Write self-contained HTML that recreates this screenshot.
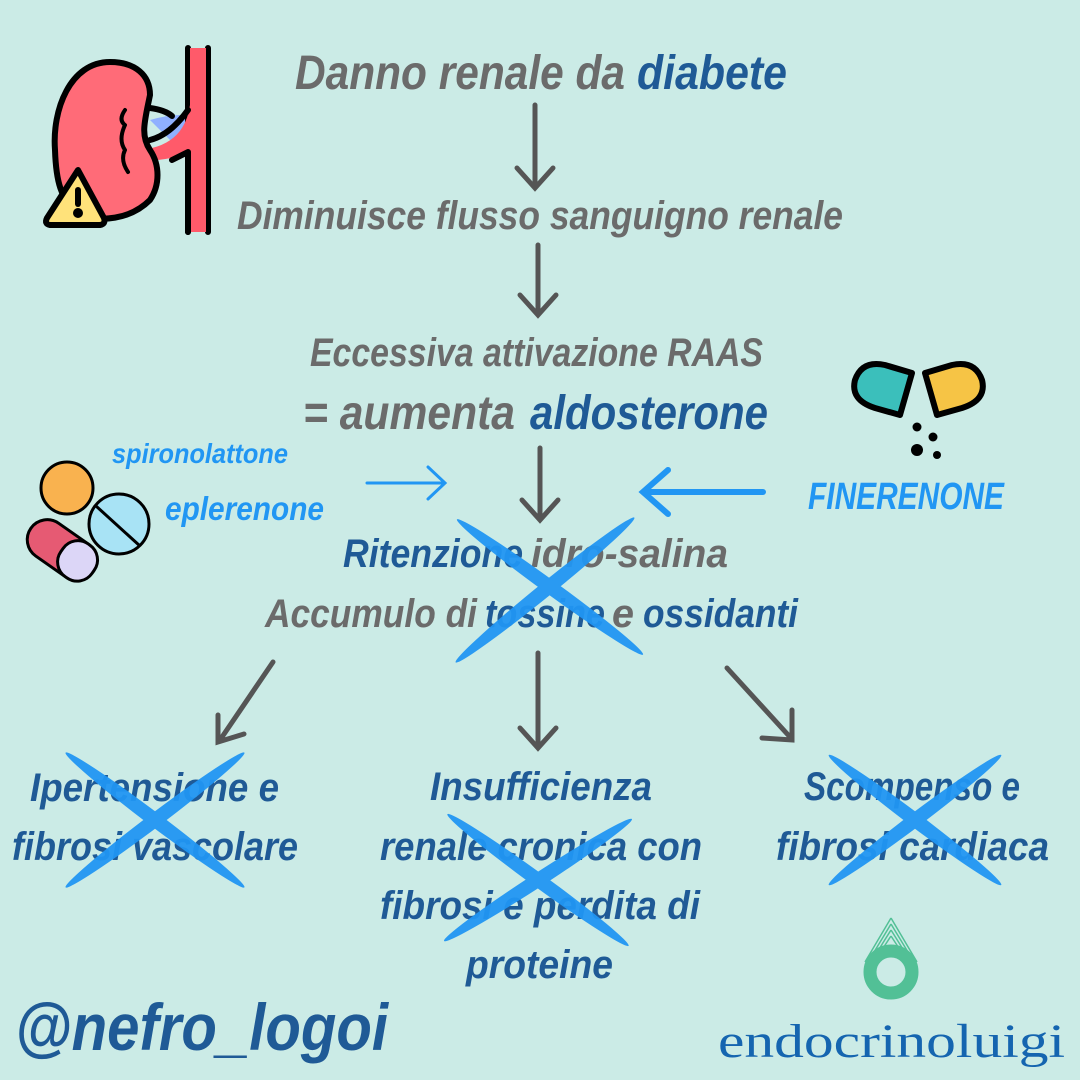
<!DOCTYPE html>
<html><head><meta charset="utf-8"><style>
html,body{margin:0;padding:0;background:#cbebe6;}
svg{display:block}
text{font-family:"Liberation Sans",sans-serif;font-style:italic;font-weight:bold;}
.g{fill:#6b6b6b}.b{fill:#1f5a96}.c{fill:#2196f3}
</style></head><body>
<svg width="1080" height="1080" viewBox="0 0 1080 1080">
<rect width="1080" height="1080" fill="#cbebe6"/>
<g stroke="#000" stroke-width="6" stroke-linecap="round" stroke-linejoin="round">
<path d="M150 120 Q185 110 200 120 L210 140 L180 150 Z" fill="#8fb0ff" stroke="none"/>
<path d="M188 48 L188 232 M208 48 L208 232" fill="none"/>
<rect x="190" y="48" width="16" height="184" fill="#ff5a6a" stroke="none"/>
<path d="M190 105 Q185 140 152 148 L158 160 Q175 158 190 153 Z" fill="#ff5a6a" stroke="none"/>
<path d="M110 62 C70 62 52 110 55 150 C56 180 60 200 80 215 C100 222 130 220 150 200 C160 185 160 165 150 150 C140 135 145 120 150 95 C150 75 135 62 110 62 Z" fill="#ff6b78"/>
<path d="M150 108 Q165 110 172 116 M150 140 Q170 135 188 110 M172 160 L188 152 L188 232" fill="none"/>
<path d="M125 110 Q118 120 125 125 Q118 140 125 150 Q120 160 128 172" fill="none" stroke-width="4"/>
<path d="M78 170 L104 218 Q106 224 100 225 L50 225 Q44 224 47 218 Z" fill="#ffe27a"/>
<path d="M78 190 L78 204" fill="none"/><circle cx="78" cy="213" r="2" fill="#000"/>
</g>
<g stroke="#000" stroke-width="3">
<circle cx="67" cy="488" r="26" fill="#f9b24f"/>
<circle cx="119" cy="524" r="30" fill="#a8e3f5"/>
<line x1="96" y1="506" x2="140" y2="546"/>
<g transform="rotate(35 62 550)"><rect x="24" y="530" width="76" height="40" rx="20" fill="#e65a73"/><rect x="62" y="530" width="38" height="40" rx="18" fill="#dcd6f7"/></g>
</g>
<g stroke="#000" stroke-width="6" stroke-linejoin="round">
<path d="M912 373 L900 415 L875 408 Q850 400 855 380 Q862 360 885 365 Z" fill="#3bbfbb"/>
<path d="M925 373 L937 415 L962 408 Q987 400 982 380 Q975 360 952 365 Z" fill="#f6c445"/>
</g>
<g fill="#000"><circle cx="917" cy="427" r="4.5"/><circle cx="933" cy="437" r="4.5"/><circle cx="917" cy="450" r="6"/><circle cx="937" cy="455" r="4"/></g>
<g stroke="#555" stroke-width="5" fill="none" stroke-linecap="round">
<path d="M535 105 V186 M517 168 L535 188 L553 168"/>
<path d="M538 245 V313 M520 295 L538 315 L556 295"/>
<path d="M540 448 V518 M522 500 L540 520 L558 500"/>
<path d="M273 662 L220 740 M218 715 L218 742 L244 734"/>
<path d="M538 653 V747 M520 728 L538 748 L556 728"/>
<path d="M727 668 L790 737 M762 738 L792 740 L792 710"/>
</g>
<g stroke="#2196f3" fill="none" stroke-linecap="round">
<path d="M367 483 H443 M428 467 L445 483 L428 499" stroke-width="3"/>
<path d="M763 492 H645 M668 470 L643 492 L668 514" stroke-width="6"/>
</g>
<text x="295" y="89" font-size="48" class="g" textLength="330" lengthAdjust="spacingAndGlyphs">Danno renale da</text>
<text x="637" y="89" font-size="48" class="b" textLength="150" lengthAdjust="spacingAndGlyphs">diabete</text>
<text x="237" y="229" font-size="40" class="g" textLength="606" lengthAdjust="spacingAndGlyphs">Diminuisce flusso sanguigno renale</text>
<text x="310" y="366" font-size="40" class="g" textLength="453" lengthAdjust="spacingAndGlyphs">Eccessiva attivazione RAAS</text>
<text x="303" y="429" font-size="48" class="g" textLength="212" lengthAdjust="spacingAndGlyphs">= aumenta</text>
<text x="530" y="429" font-size="48" class="b" textLength="238" lengthAdjust="spacingAndGlyphs">aldosterone</text>
<text x="112" y="463" font-size="28" class="c" textLength="176" lengthAdjust="spacingAndGlyphs">spironolattone</text>
<text x="165" y="520" font-size="33" class="c" textLength="159" lengthAdjust="spacingAndGlyphs">eplerenone</text>
<text x="808" y="509" font-size="38" class="c" textLength="196" lengthAdjust="spacingAndGlyphs">FINERENONE</text>
<text x="343" y="567" font-size="40" class="b" textLength="180" lengthAdjust="spacingAndGlyphs">Ritenzione</text>
<text x="531" y="567" font-size="40" class="g" textLength="197" lengthAdjust="spacingAndGlyphs">idro-salina</text>
<text x="265" y="627" font-size="40" class="g" textLength="212" lengthAdjust="spacingAndGlyphs">Accumulo di</text>
<text x="485" y="627" font-size="40" class="b" textLength="120" lengthAdjust="spacingAndGlyphs">tossine</text>
<text x="612" y="627" font-size="40" class="g" textLength="22" lengthAdjust="spacingAndGlyphs">e</text>
<text x="643" y="627" font-size="40" class="b" textLength="155" lengthAdjust="spacingAndGlyphs">ossidanti</text>
<g class="b" font-size="40">
<text x="30" y="801" textLength="249" lengthAdjust="spacingAndGlyphs">Ipertensione e</text>
<text x="12" y="860" textLength="286" lengthAdjust="spacingAndGlyphs">fibrosi vascolare</text>
<text x="430" y="800" textLength="222" lengthAdjust="spacingAndGlyphs">Insufficienza</text>
<text x="380" y="860" textLength="322" lengthAdjust="spacingAndGlyphs">renale cronica con</text>
<text x="380" y="919" textLength="320" lengthAdjust="spacingAndGlyphs">fibrosi e perdita di</text>
<text x="466" y="978" textLength="147" lengthAdjust="spacingAndGlyphs">proteine</text>
<text x="804" y="800" textLength="216" lengthAdjust="spacingAndGlyphs">Scompenso e</text>
<text x="776" y="860" textLength="273" lengthAdjust="spacingAndGlyphs">fibrosi cardiaca</text>
</g>
<text x="15" y="1050" font-size="66" class="b" textLength="373" lengthAdjust="spacingAndGlyphs">@nefro_logoi</text>
<text x="718" y="1057" font-size="48" fill="#1565b0" style="font-family:'Liberation Serif',serif;font-style:normal;font-weight:normal" textLength="347" lengthAdjust="spacingAndGlyphs">endocrinoluigi</text>
<g fill="none" stroke="#52c096" stroke-width="1.5">
<path d="M891 918 L865 962 M891 918 L917 962"/>
<path d="M891 924 L868 962 M891 924 L914 962"/>
<path d="M891 930 L871 962 M891 930 L911 962"/>
<path d="M891 936 L874 962 M891 936 L908 962"/>
</g>
<circle cx="891" cy="972" r="21" fill="none" stroke="#52c096" stroke-width="13"/>
<g fill="#2196f3" opacity="0.95">
<ellipse cx="545" cy="590" rx="115" ry="7" transform="rotate(-39 545 590)"/>
<ellipse cx="550" cy="587" rx="115" ry="7" transform="rotate(36 550 587)"/>
<ellipse cx="155" cy="820" rx="112" ry="7" transform="rotate(-37 155 820)"/>
<ellipse cx="155" cy="820" rx="112" ry="7" transform="rotate(37 155 820)"/>
<ellipse cx="538" cy="880" rx="112" ry="7" transform="rotate(-33 538 880)"/>
<ellipse cx="538" cy="880" rx="112" ry="7" transform="rotate(36 538 880)"/>
<ellipse cx="915" cy="820" rx="108" ry="7" transform="rotate(-37 915 820)"/>
<ellipse cx="915" cy="820" rx="108" ry="7" transform="rotate(37 915 820)"/>
</g>
</svg>
</body></html>
